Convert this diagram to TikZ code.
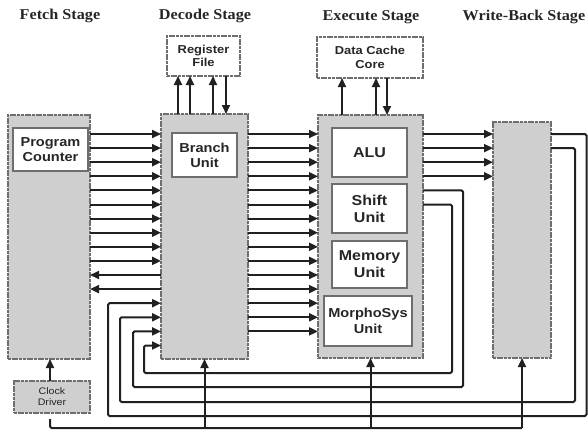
\documentclass[tikz,border=0pt]{standalone}
\usepackage{fontspec}
\setmainfont{Liberation Serif}
\newfontfamily\sflab[FakeStretch=1.12]{Liberation Sans}
\newfontfamily\serlab[FakeStretch=1.08]{Liberation Serif}
\usetikzlibrary{arrows.meta}
\definecolor{blockfill}{HTML}{CFCFCF}
\definecolor{blockline}{HTML}{6E6E6E}
\definecolor{wire}{HTML}{202020}
\definecolor{txt}{HTML}{262626}
\tikzset{
  block/.style={draw=blockline, fill=blockfill, line width=1.3pt, dash pattern=on 3pt off 0.7pt, inner sep=0pt, outer sep=0pt},
  unitbox/.style={draw=blockline, fill=white, line width=1.1pt, inner sep=0pt, outer sep=0pt, align=center, text=txt, font=\sflab\bfseries},
  extbox/.style={unitbox, line width=1.3pt, dash pattern=on 3pt off 0.7pt},
  stagelabel/.style={font=\serlab\bfseries\fontsize{15}{17}\selectfont, text=txt, inner sep=0pt},
  wireline/.style={draw=wire, line width=2pt, rounded corners=1.5pt},
  arr/.style={wireline, -{Triangle[length=9pt,width=8pt]}},
}
\begin{document}
\begin{tikzpicture}[x=1pt,y=-1pt]
\useasboundingbox (0,0) rectangle (588,431);
% stage titles
\node[stagelabel] (tfetch) at (60,16) {Fetch Stage};
\node[stagelabel] (tdecode) at (205,16) {Decode Stage};
\node[stagelabel] (texec) at (371,17) {Execute Stage};
\node[stagelabel] (twb) at (524,17) {Write-Back Stage};
% main blocks
\node[block, minimum width=82pt, minimum height=244pt] (fetch) at (49,237) {};
\node[block, minimum width=87pt, minimum height=245pt] (decode) at (204.5,236.5) {};
\node[block, minimum width=105pt, minimum height=243pt] (exec) at (370.5,236.5) {};
\node[block, minimum width=58pt, minimum height=236pt] (wb) at (522,240) {};
% inner units
\node[unitbox, font=\sflab\bfseries\fontsize{13}{15}\selectfont, minimum width=75pt, minimum height=43pt] (pc) at (50.5,149.5) {Program\\Counter};
\node[unitbox, font=\sflab\bfseries\fontsize{13}{15}\selectfont, minimum width=65pt, minimum height=44pt] (branch) at (204.5,155) {Branch\\Unit};
\node[unitbox, font=\sflab\bfseries\fontsize{14.3}{17}\selectfont, minimum width=75pt, minimum height=49pt] (alu) at (369.5,152.5) {ALU};
\node[unitbox, font=\sflab\bfseries\fontsize{14.3}{17}\selectfont, minimum width=75pt, minimum height=49pt] (shift) at (369.5,208.5) {Shift\\Unit};
\node[unitbox, font=\sflab\bfseries\fontsize{14.3}{17}\selectfont, minimum width=75pt, minimum height=47pt] (memory) at (369.5,264.5) {Memory\\Unit};
\node[unitbox, font=\sflab\bfseries\fontsize{13}{16}\selectfont, minimum width=88pt, minimum height=50pt] (morpho) at (368,321) {MorphoSys\\Unit};
% external boxes
\node[extbox, font=\sflab\bfseries\fontsize{11.5}{13.5}\selectfont, minimum width=73pt, minimum height=40pt] (regfile) at (203.5,56) {Register\\File};
\node[extbox, font=\sflab\bfseries\fontsize{11.5}{13.5}\selectfont, minimum width=106pt, minimum height=41pt] (dcache) at (370,57.5) {Data Cache\\Core};
\node[block, align=center, text=txt, font=\sflab\fontsize{9.5}{11}\selectfont, minimum width=76pt, minimum height=32pt] (clock) at (52,397) {Clock\\Driver};
% register file connections
\foreach \xx in {178,190,213} \draw[arr] (decode.north -| \xx,0) -- (regfile.south -| \xx,0);
\draw[arr] (regfile.south -| 226,0) -- (decode.north -| 226,0);
% data cache connections
\foreach \xx in {342,376} \draw[arr] (exec.north -| \xx,0) -- (dcache.south -| \xx,0);
\draw[arr] (dcache.south -| 387,0) -- (exec.north -| 387,0);
% fetch <-> decode
\foreach \k [evaluate=\k as \yy using 134+14.1*\k] in {0,...,9}
  \draw[arr] (fetch.east |- 0,\yy) -- (decode.west |- 0,\yy);
\foreach \k [evaluate=\k as \yy using 134+14.1*\k] in {10,11}
  \draw[arr] (decode.west |- 0,\yy) -- (fetch.east |- 0,\yy);
% decode -> execute
\foreach \k [evaluate=\k as \yy using 134+14.1*\k] in {0,...,14}
  \draw[arr] (decode.east |- 0,\yy) -- (exec.west |- 0,\yy);
% execute -> write-back
\foreach \k [evaluate=\k as \yy using 134+14.1*\k] in {0,...,3}
  \draw[arr] (exec.east |- 0,\yy) -- (wb.west |- 0,\yy);
% feedback loops
\draw[arr] (wb.east |- 0,134) -- (586.5,134) -- (586.5,416) -- (108,416) -- (108,303.2) -- (decode.west |- 0,303.2);
\draw[arr] (wb.east |- 0,148.1) -- (575,148.1) -- (575,402) -- (120,402) -- (120,317.3) -- (decode.west |- 0,317.3);
\draw[arr] (exec.east |- 0,190.4) -- (463,190.4) -- (463,387) -- (133,387) -- (133,331.4) -- (decode.west |- 0,331.4);
\draw[arr] (exec.east |- 0,204.5) -- (452,204.5) -- (452,373) -- (144,373) -- (144,345.5) -- (decode.west |- 0,345.5);
% clock distribution
\coordinate (clkstart) at (50,419);
\coordinate (clk) at (50,428);
\draw[arr] (clock.north -| clk) -- (fetch.south -| clk);
\draw[wireline] (clkstart) -- (clk) -- (wb.south |- clk);
\draw[arr] (decode.south |- clk) -- (decode.south);
\draw[arr] (exec.south |- clk) -- (exec.south);
\draw[arr] (wb.south |- clk) -- (wb.south);
\end{tikzpicture}
\end{document}
